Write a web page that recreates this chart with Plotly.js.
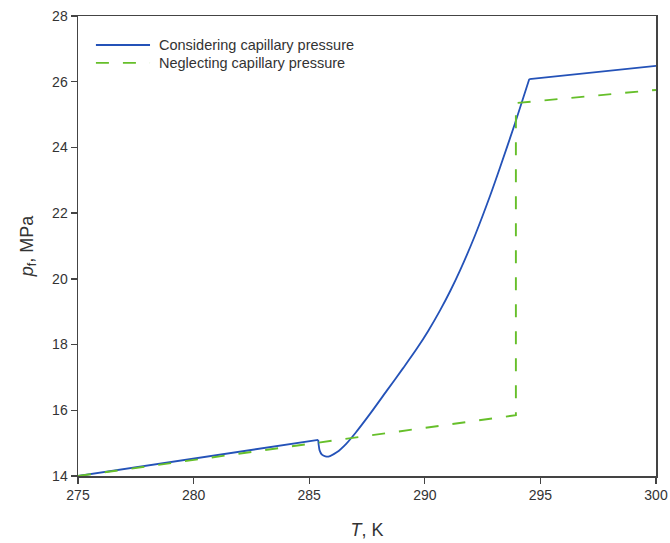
<!DOCTYPE html>
<html>
<head>
<meta charset="utf-8">
<script src="https://cdn.plot.ly/plotly-3.0.1.min.js"></script>
<style>
  html, body { margin: 0; padding: 0; background: #fff; }
  #chart { width: 670px; height: 543px; }
</style>
</head>
<body>
<div id="chart"></div>
<script>
// Fracture pressure vs temperature, with and without capillary pressure
const seriesNames = ['Considering capillary pressure', 'Neglecting capillary pressure'];

// Considering capillary pressure (T in K, p in MPa)
const tCap = [275, 285.39, 285.41, 285.45, 285.55, 285.70, 285.83, 286.19, 286.60, 287.00,
              287.63, 288.35, 289.07, 289.65, 290.16, 290.66, 291.10, 291.52, 292.17, 292.82,
              293.25, 293.90, 294.52, 300];
const pCap = [14.00, 15.10, 14.95, 14.78, 14.65, 14.60, 14.59, 14.72, 14.98, 15.31,
              15.89, 16.59, 17.29, 17.87, 18.43, 19.04, 19.63, 20.25, 21.32, 22.52,
              23.38, 24.73, 26.08, 26.48];

// Neglecting capillary pressure
const tNoCap = [275, 293.94, 293.94, 300];
const pNoCap = [14.00, 15.85, 25.35, 25.75];

const xTicks = [275, 280, 285, 290, 295, 300];
const yTicks = [14, 16, 18, 20, 22, 24, 26, 28];

const fontFam = 'Arial, "Liberation Sans", sans-serif';
const blue = '#2452b8';
const green = '#66bf2a';
const greenDash = '13px,14px';

// The blue curve has two sharp corners (onset of the dip and the end of the
// steep rise); draw the curved part smoothed and the straight parts as lines.
const iDip = tCap.indexOf(285.39);
const iTop = tCap.indexOf(294.52);
const capSegments = [
  { x: tCap.slice(0, iDip + 1), y: pCap.slice(0, iDip + 1), shape: 'linear' },
  { x: tCap.slice(iDip, iTop + 1), y: pCap.slice(iDip, iTop + 1), shape: 'spline' },
  { x: tCap.slice(iTop), y: pCap.slice(iTop), shape: 'linear' }
];

const traces = capSegments.map(s => ({
  x: s.x, y: s.y, mode: 'lines', name: seriesNames[0], showlegend: false,
  line: { color: blue, width: 1.8, shape: s.shape, smoothing: 0.8 }
}));
traces.push({
  x: tNoCap, y: pNoCap, name: seriesNames[1], mode: 'lines', showlegend: false,
  line: { color: green, width: 1.9, dash: greenDash }
});

// Legend drawn as keys + labels in the upper-left corner of the plot
const legendRows = [
  { y: 0.937, color: blue, dash: 'solid', text: seriesNames[0] },
  { y: 0.898, color: green, dash: greenDash, text: seriesNames[1] }
];
const shapes = legendRows.map(r => ({
  type: 'line', xref: 'paper', yref: 'paper',
  x0: 0.031, x1: 0.1246, y0: r.y, y1: r.y,
  line: { color: r.color, width: 1.8, dash: r.dash }
}));
const annotations = legendRows.map(r => ({
  xref: 'paper', yref: 'paper', x: 0.137, y: r.y,
  xanchor: 'left', yanchor: 'middle', showarrow: false,
  text: r.text, font: { family: fontFam, size: 14.5, color: '#333' }
}));

const axisCommon = {
  showgrid: false, zeroline: false,
  showline: true, linecolor: '#444', linewidth: 1.5, mirror: true,
  ticks: 'outside', ticklen: 6, tickwidth: 1.3, tickcolor: '#444',
  tickfont: { family: fontFam, size: 14, color: '#333' }
};

const layout = {
  width: 670, height: 543,
  margin: { l: 78, r: 14, t: 16, b: 67 },
  paper_bgcolor: '#fff', plot_bgcolor: '#fff',
  font: { family: fontFam, color: '#333' },
  showlegend: false,
  shapes: shapes,
  annotations: annotations,
  xaxis: Object.assign({}, axisCommon, {
    range: [275, 300], tickvals: xTicks, ticktext: xTicks.map(String),
    title: { text: '<i>T</i>, K', font: { family: fontFam, size: 18, color: '#333' }, standoff: 21 }
  }),
  yaxis: Object.assign({}, axisCommon, {
    range: [14, 28], tickvals: yTicks, ticktext: yTicks.map(String),
    title: { text: '<i>p</i><sub>f</sub>, MPa', font: { family: fontFam, size: 18, color: '#333' }, standoff: 14 }
  })
};

Plotly.newPlot('chart', traces, layout, { displayModeBar: false, staticPlot: true });
</script>
</body>
</html>
